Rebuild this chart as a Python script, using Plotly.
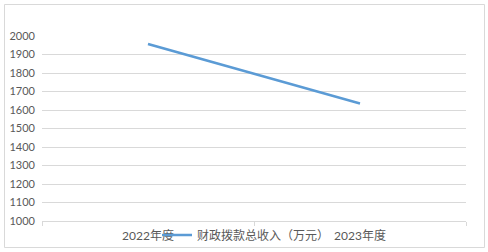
import plotly.graph_objects as go

categories = ["2022年度", "2023年度"]
values = [1957, 1635]
series_name = "财政拨款总收入（万元）"
y_ticks = [1000, 1100, 1200, 1300, 1400, 1500, 1600, 1700, 1800, 1900, 2000]

L, R, T, B = 42, 22, 36, 31
W, H = 488, 252
pw, ph = W - L - R, H - T - B

def px_x(px):
    return (px - L) / pw

def px_y(py):
    return (H - B - py) / ph

fig = go.Figure()
fig.add_trace(go.Scatter(
    x=categories, y=values, mode="lines", name=series_name,
    line=dict(color="#5B9BD5", width=2.5),
))

grey = "#595959"
fig.update_layout(
    width=W, height=H,
    margin=dict(l=L, r=R, t=T, b=B, autoexpand=False),
    paper_bgcolor="white", plot_bgcolor="white",
    font=dict(family="Lato, 'Noto Sans CJK SC', sans-serif", size=11, color=grey),
    showlegend=True,
    legend=dict(orientation="h", x=px_x(157), xanchor="left", y=px_y(235), yanchor="middle",
                bgcolor="rgba(0,0,0,0)", font=dict(size=12, color=grey),
                itemwidth=30, tracegroupgap=0),
    xaxis=dict(type="category", range=[-0.5, 1.5], showgrid=False, showline=True, linecolor="#d9d9d9",
               ticks="outside", tickson="boundaries", ticklen=4, tickcolor="#d9d9d9",
               ticklabelstandoff=4,
               tickfont=dict(size=12, color=grey), fixedrange=True),
    yaxis=dict(range=[1000, 2000], tickvals=y_ticks, showgrid=True, gridcolor="#d9d9d9",
               gridwidth=1, zeroline=False, showline=False, ticks="",
               ticklabelstandoff=6,
               tickfont=dict(size=11, color=grey), fixedrange=True),
    shapes=[dict(type="rect", xref="paper", yref="paper",
                 x0=px_x(4.5), x1=px_x(484.5), y0=px_y(247.5), y1=px_y(4.5),
                 line=dict(color="#d9d9d9", width=1), layer="below")],
)

fig.write_html("out.html")
